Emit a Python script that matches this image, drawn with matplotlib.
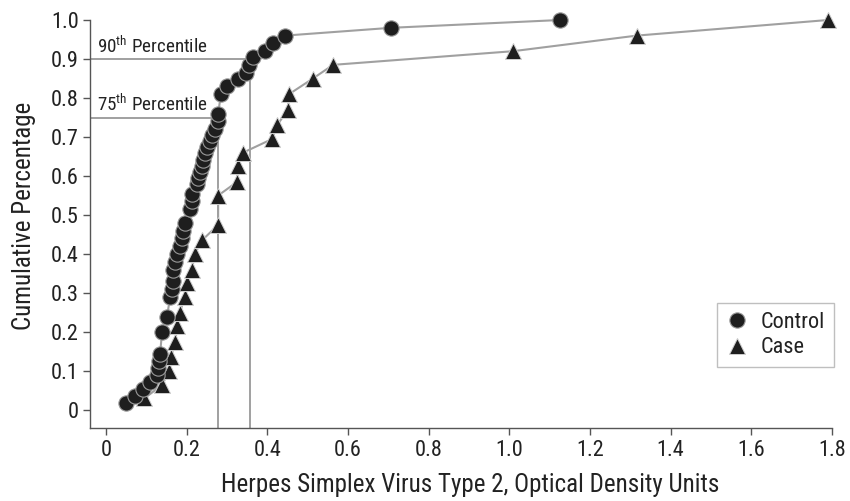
import matplotlib
matplotlib.use("Agg")
import matplotlib.pyplot as plt
from matplotlib import font_manager

# ---- data ----
control_x = [0.05, 0.072, 0.092, 0.109, 0.126, 0.129, 0.131, 0.134, 0.139, 0.151,
             0.159, 0.164, 0.166, 0.166, 0.171, 0.176, 0.183, 0.188, 0.191, 0.196,
             0.208, 0.213, 0.213, 0.226, 0.228, 0.233, 0.238, 0.240, 0.245, 0.250,
             0.258, 0.263, 0.270, 0.278, 0.278, 0.285, 0.300, 0.327, 0.347, 0.355,
             0.365, 0.394, 0.414, 0.444, 0.707, 1.126]
control_y = [0.018, 0.036, 0.054, 0.072, 0.090, 0.108, 0.126, 0.144, 0.200, 0.238,
             0.290, 0.310, 0.330, 0.360, 0.380, 0.400, 0.420, 0.440, 0.460, 0.480,
             0.515, 0.535, 0.555, 0.580, 0.595, 0.610, 0.625, 0.640, 0.660, 0.675,
             0.690, 0.705, 0.720, 0.740, 0.760, 0.810, 0.830, 0.850, 0.865, 0.885,
             0.905, 0.920, 0.940, 0.960, 0.980, 1.000]

case_x = [0.095, 0.140, 0.155, 0.160, 0.172, 0.176, 0.183, 0.195, 0.200, 0.213,
          0.220, 0.238, 0.278, 0.278, 0.325, 0.327, 0.340, 0.412, 0.424, 0.451,
          0.454, 0.513, 0.563, 1.009, 1.316, 1.790]
case_y = [0.030, 0.065, 0.100, 0.135, 0.175, 0.215, 0.250, 0.290, 0.325, 0.360,
          0.400, 0.435, 0.475, 0.550, 0.585, 0.625, 0.660, 0.695, 0.730, 0.770,
          0.810, 0.850, 0.885, 0.920, 0.960, 1.000]

p75_x, p75_y = 0.278, 0.75
p90_x, p90_y = 0.357, 0.90

x_ticks = [0, 0.2, 0.4, 0.6, 0.8, 1.0, 1.2, 1.4, 1.6, 1.8]
x_ticklabels = ["0", "0.2", "0.4", "0.6", "0.8", "1.0", "1.2", "1.4", "1.6", "1.8"]
y_ticks = [0, 0.1, 0.2, 0.3, 0.4, 0.5, 0.6, 0.7, 0.8, 0.9, 1.0]
y_ticklabels = ["0", "0.1", "0.2", "0.3", "0.4", "0.5", "0.6", "0.7", "0.8", "0.9", "1.0"]

# ---- fonts ----
names = {f.name for f in font_manager.fontManager.ttflist}
prefs = ["Roboto Condensed", "Archivo Narrow", "PT Sans Narrow", "IBM Plex Sans Condensed",
         "Fira Sans Condensed", "Sofia Sans Semi Condensed", "Saira SemiCondensed"]
fam = next((p for p in prefs if p in names), "DejaVu Sans")
plt.rcParams["font.family"] = [fam, "DejaVu Sans"]
plt.rcParams["mathtext.fontset"] = "custom"
plt.rcParams["mathtext.rm"] = fam
plt.rcParams["mathtext.it"] = fam
plt.rcParams["mathtext.bf"] = fam

text_c = "#222222"
gray = "#a0a0a0"
spine_c = "#555555"

W, H = 850, 501
fig = plt.figure(figsize=(8.5, 5.01), dpi=100)
ax_l, ax_r, ax_b, ax_t = 90, 832, 428, 20
ax = fig.add_axes([ax_l / W, (H - ax_b) / H, (ax_r - ax_l) / W, (ax_b - ax_t) / H])
aw, ah = ax_r - ax_l, ax_b - ax_t

xmin, ymin = -0.0397, -0.046
ax.set_xlim(xmin, 1.8)
ax.set_ylim(ymin, 1.0)

# percentile guide lines
ax.plot([xmin, p90_x, p90_x], [p90_y, p90_y, ymin], color=gray, lw=1.4, zorder=1)
ax.plot([xmin, p75_x, p75_x], [p75_y, p75_y, ymin], color=gray, lw=1.4, zorder=1)
ax.text(xmin + 0.018, p90_y + 0.006, "90$^{\\rm th}$ Percentile", fontsize=13.7,
        color=text_c, va="bottom", ha="left")
ax.text(xmin + 0.018, p75_y + 0.006, "75$^{\\rm th}$ Percentile", fontsize=13.7,
        color=text_c, va="bottom", ha="left")

# series
ax.plot(case_x, case_y, color=gray, lw=1.5, zorder=2, clip_on=False)
ax.plot(case_x, case_y, ls="none", marker="^", ms=12, mfc="#1e1e1e", mec="#cfcfcf",
        mew=0.7, zorder=3, clip_on=False, label="Case")
ax.plot(control_x, control_y, color=gray, lw=1.5, zorder=4, clip_on=False)
ax.plot(control_x, control_y, ls="none", marker="o", ms=11, mfc="#1e1e1e", mec="#9a9a9a",
        mew=0.8, zorder=5, clip_on=False, label="Control")

# axes styling
for s in ["top", "right"]:
    ax.spines[s].set_visible(False)
for s in ["left", "bottom"]:
    ax.spines[s].set_color(spine_c)
    ax.spines[s].set_linewidth(1.0)

ax.set_xticks(x_ticks)
ax.set_xticklabels(x_ticklabels)
ax.set_yticks(y_ticks)
ax.set_yticklabels(y_ticklabels)
ax.tick_params(axis="both", direction="out", length=5, width=1.0, color=spine_c,
               labelsize=16, labelcolor=text_c)
ax.tick_params(axis="y", pad=3)
ax.tick_params(axis="x", pad=4)

ax.set_xlabel("Herpes Simplex Virus Type 2, Optical Density Units", fontsize=18,
              color=text_c)
ax.set_ylabel("Cumulative Percentage", fontsize=18, color=text_c)
ax.xaxis.set_label_coords((470 - ax_l) / aw, (ax_b - 473) / ah)
ax.yaxis.set_label_coords((36 - ax_l) / aw, (ax_b - 216) / ah)

handles, labels = ax.get_legend_handles_labels()
order = [labels.index("Control"), labels.index("Case")]
leg = ax.legend([handles[i] for i in order], [labels[i] for i in order],
                loc="upper right", bbox_to_anchor=(1.003, 0.306), borderaxespad=0,
                fontsize=16, frameon=True, fancybox=False, handlelength=1.0,
                handletextpad=0.6, borderpad=0.4, labelspacing=0.2)
leg.get_frame().set_edgecolor("#b0b0b0")
leg.get_frame().set_linewidth(1.0)
for t in leg.get_texts():
    t.set_color(text_c)

fig.savefig("out.png", dpi=100)
